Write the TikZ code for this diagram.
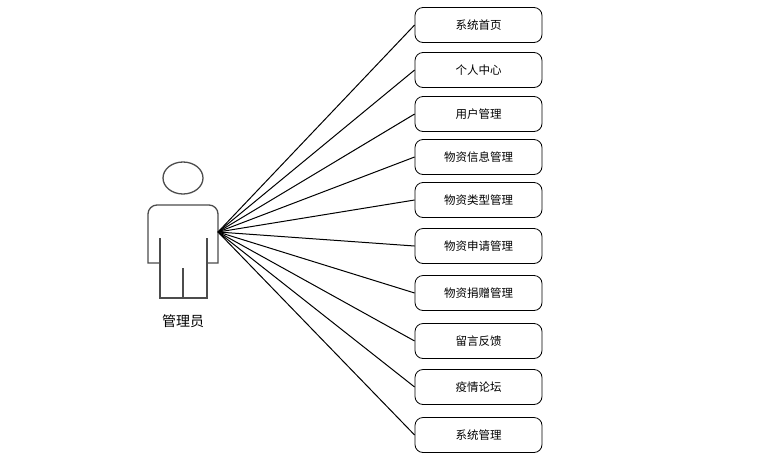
\documentclass[tikz,border=0pt]{standalone}
\usepackage{fontspec}
\newfontfamily\cjk{Noto Sans CJK SC}
\begin{document}
\begin{tikzpicture}[x=1pt,y=-1pt,
  uc/.style={draw=black,rounded corners=8pt,minimum width=127pt,minimum height=35pt,font=\cjk\fontsize{11.5}{13}\selectfont,line width=0.8pt},
  act/.style={draw=black!70,line width=1.3pt}]
\useasboundingbox (0,0) rectangle (769,456);
\draw[act] (183,178) ellipse (20 and 16);
\draw[act] (160,263) -- (148,263) {[rounded corners=9pt] -- (148,205) -- (218,205)} -- (218,263) -- (207,263);
\draw[act] (160,238) -- (160,298) -- (207,298) -- (207,238);
\draw[act] (183,268) -- (183,298);
\coordinate (hub) at (218,232);
\node[font=\cjk\fontsize{14}{16}\selectfont] (lab) at (183,321) {管理员};
\foreach \n/\y/\t in {a/25/系统首页,b/70/个人中心,c/114/用户管理,d/157/物资信息管理,e/200/物资类型管理,f/246/物资申请管理,g/293/物资捐赠管理,h/341/留言反馈,i/387/疫情论坛,j/435/系统管理}{
  \node[uc] (\n) at (478.5,\y) {\t};
  \draw[line width=1pt] (hub) -- (\n.west);
}
\end{tikzpicture}
\end{document}
